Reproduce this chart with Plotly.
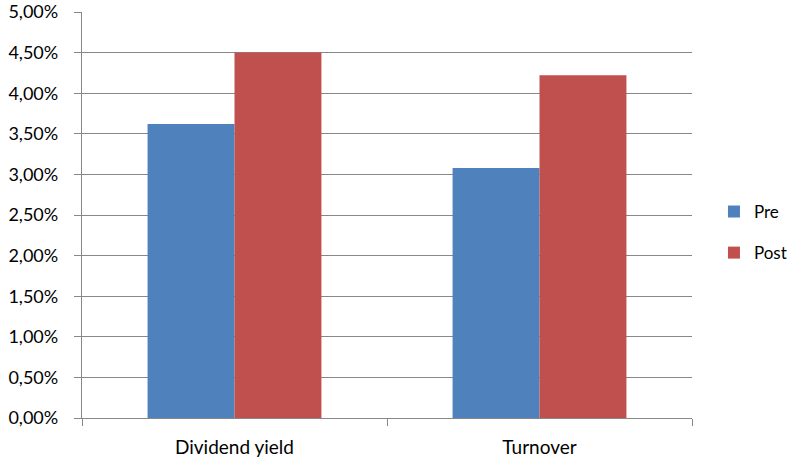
import plotly.graph_objects as go

categories = ["Dividend yield", "Turnover"]
pre_values = [0.0362, 0.0308]
post_values = [0.0450, 0.0422]
series_names = ["Pre", "Post"]
colors = ["#4F81BD", "#C0504D"]

fig = go.Figure()
for name, vals, col, grp in zip(series_names, [pre_values, post_values], colors, ["a", "b"]):
    fig.add_trace(go.Bar(
        x=categories, y=vals, name=name, legendgroup=grp,
        marker=dict(color=col, line=dict(width=0)),
    ))

font_family = "Lato, 'Open Sans', sans-serif"
fig.update_layout(
    width=789, height=464,
    margin=dict(l=82, r=97, t=12, b=46, autoexpand=False),
    paper_bgcolor="white", plot_bgcolor="white",
    separators=",.",
    barmode="group", bargap=0.43, bargroupgap=0,
    font=dict(family=font_family, size=16, color="#000000"),
    showlegend=True,
    legend=dict(x=1.036, xanchor="left", y=0.457, yanchor="middle",
                traceorder="grouped", tracegroupgap=16, itemwidth=30,
                font=dict(size=17, family=font_family)),
    yaxis=dict(range=[0, 0.05], dtick=0.005, tickformat=".2%",
               showgrid=True, gridcolor="#888888", gridwidth=1.3,
               showline=True, linecolor="#888888", linewidth=1.3,
               ticks="outside", ticklen=7, tickcolor="#888888",
               ticklabelstandoff=12, ticklabeloverflow="allow",
               tickfont=dict(size=18), zeroline=False),
    xaxis=dict(showline=True, linecolor="#888888", linewidth=1.3,
               ticks="outside", tickson="boundaries", ticklen=7, tickcolor="#888888",
               ticklabelstandoff=12,
               tickfont=dict(size=19), showgrid=False),
)
fig.write_html("out.html")
